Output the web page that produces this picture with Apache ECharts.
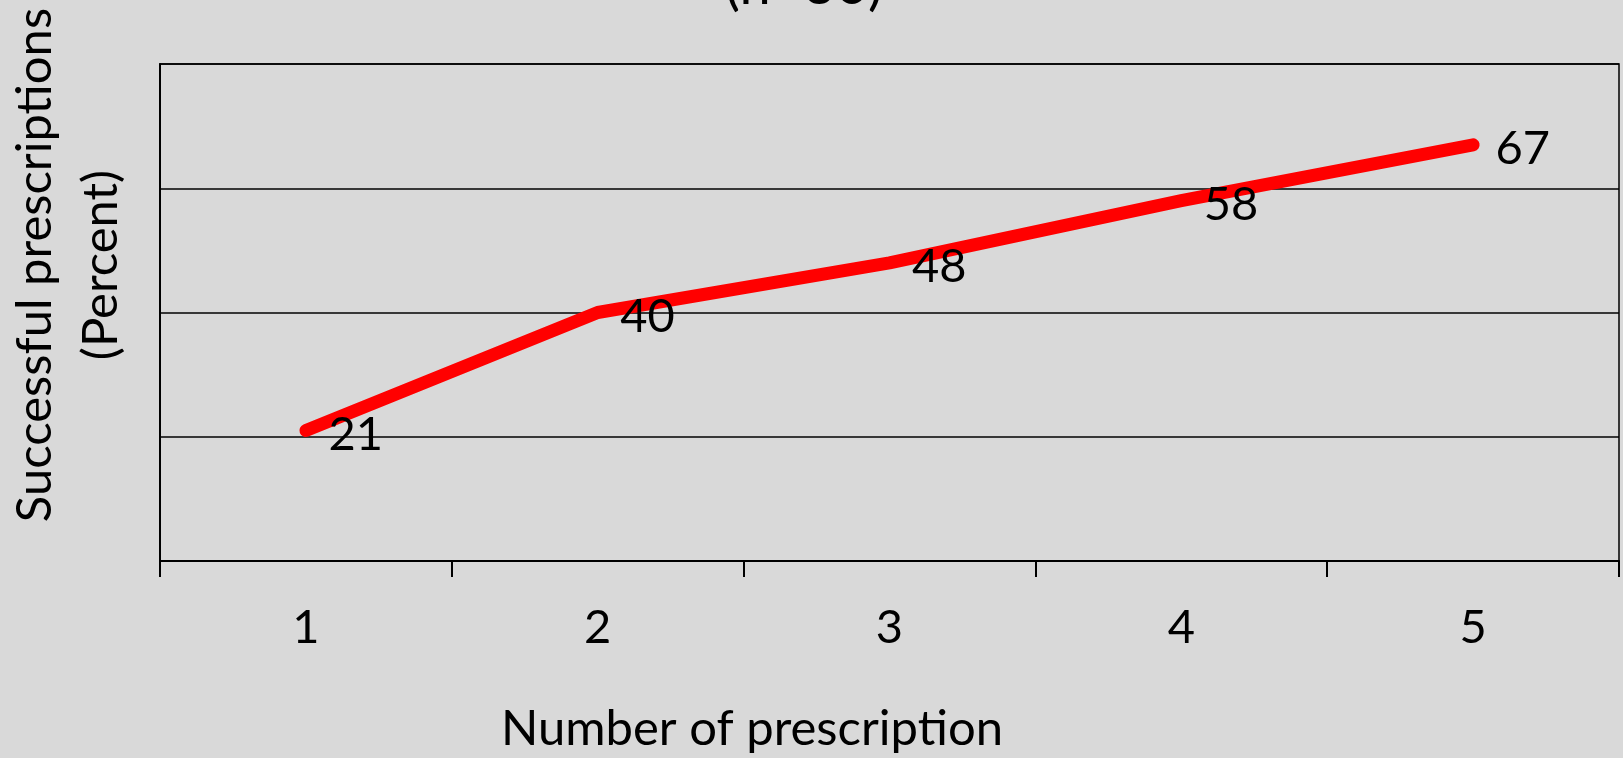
<!DOCTYPE html>
<html>
<head>
<meta charset="utf-8">
<script src="https://cdn.jsdelivr.net/npm/echarts@6/dist/echarts.min.js"></script>
<style>
html,body{margin:0;padding:0;background:#d9d9d9;}
#c{width:1623px;height:758px;}
</style>
</head>
<body>
<div id="c"></div>
<script>
const categories = ['1', '2', '3', '4', '5'];
const values = [21, 40, 48, 58, 67];
const titleText = '(n=30)';
const xName = 'Number of prescription';
const yName = 'Successful prescriptions\n(Percent)';

const FONT = 'Lato';
const chart = echarts.init(document.getElementById('c'));
chart.setOption({
  animation: false,
  backgroundColor: '#d9d9d9',
  grid: {
    left: 160, right: 4, top: 64, bottom: 197,
    show: true, borderColor: '#000', borderWidth: 1.5, backgroundColor: 'transparent'
  },
  xAxis: {
    type: 'category',
    data: categories,
    boundaryGap: true,
    axisLine: { show: true, lineStyle: { color: '#000', width: 2 } },
    axisTick: { show: true, length: 16, lineStyle: { color: '#000', width: 2 } },
    axisLabel: { fontFamily: FONT, fontSize: 47, color: '#000', margin: 43 },
    splitLine: { show: false }
  },
  yAxis: {
    type: 'value',
    min: 0, max: 80, interval: 20,
    axisLine: { show: true, lineStyle: { color: '#000', width: 2 } },
    axisTick: { show: false },
    axisLabel: { show: false },
    splitLine: { show: true, lineStyle: { color: '#000', width: 1.5 } }
  },
  series: [{
    type: 'line',
    data: values,
    symbol: 'circle',
    symbolSize: 1,
    itemStyle: { color: '#ff0000' },
    lineStyle: { color: '#ff0000', width: 13, cap: 'round', join: 'round' },
    label: {
      show: true, position: 'right', distance: 22, offset: [0, 4],
      fontFamily: FONT, fontSize: 47, color: '#000'
    },
    emphasis: { disabled: true }
  }],
  graphic: [
    {
      type: 'text', x: 804, y: -14,
      style: { text: titleText, font: '56px Lato', fill: '#000', align: 'center', verticalAlign: 'middle' }
    },
    {
      type: 'text', x: 752, y: 729,
      style: { text: xName, font: '49px Lato', fill: '#000', align: 'center', verticalAlign: 'middle' }
    },
    {
      type: 'text', x: 68, y: 265, rotation: Math.PI / 2,
      style: { text: yName, font: '49px Lato', lineHeight: 66, fill: '#000', align: 'center', verticalAlign: 'middle' }
    }
  ]
});
</script>
</body>
</html>
